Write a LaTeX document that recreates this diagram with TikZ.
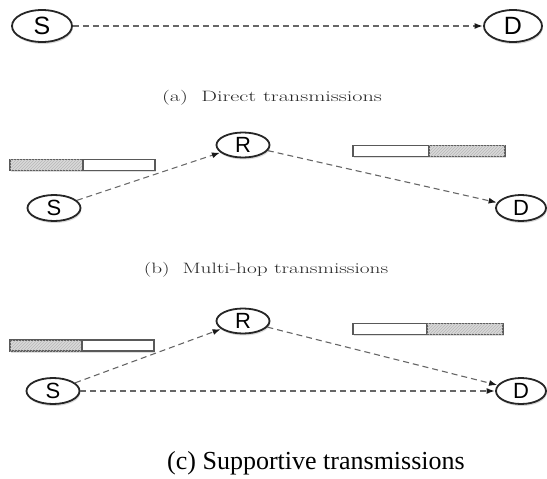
\documentclass[tikz,border=0pt]{standalone}
\usepackage{fontspec}
\newfontfamily\nodesans{Liberation Sans}
\newfontfamily\capserif{Liberation Serif}
\usetikzlibrary{shapes.geometric,arrows.meta,patterns,shadows}
\begin{document}
\begin{tikzpicture}[x=1pt,y=-1pt,
  tnode/.style={ellipse, draw=black!85, line width=1.8pt, fill=white, inner sep=0pt,
    drop shadow={opacity=0.3, shadow xshift=0.8pt, shadow yshift=-2pt},
    minimum width=53pt, minimum height=26pt,
    font=\nodesans\fontsize{22}{22}\selectfont},
  bignode/.style={tnode, minimum width=60pt, minimum height=32pt,
    font=\nodesans\fontsize{25}{25}\selectfont},
  link/.style={dash pattern=on 6pt off 4pt, line width=1.1pt, draw=black!60,
    -{Latex[length=8pt,width=6pt,color=black!90]}, shorten >=0.5pt},
  barwhite/.style={rectangle, draw=black!65, line width=1.4pt, fill=white,
    minimum height=11pt, inner sep=0pt, outer sep=0pt,
    drop shadow={opacity=0.25, shadow xshift=0.8pt, shadow yshift=-1.8pt}},
  barhatch/.style={barwhite, fill=black!15, postaction={pattern=north east lines, pattern color=black!28}},
  capcm/.style={text=black!85, font=\fontsize{15}{18}\selectfont\addfontfeature{FakeBold=1.2}, inner sep=0pt},
  capt/.style={text=black, font=\capserif\fontsize{26}{30}\selectfont, inner sep=0pt}
]
\useasboundingbox (0,0) rectangle (547,479);

% (a) direct
\node[bignode] (S1) at (42,26) {S};
\node[bignode, minimum width=58pt] (D1) at (513,26) {D};
\draw[link] (S1) -- (D1);
\node[capcm] (capA) at (272,98) {\scalebox{1.48}[1]{(a)\ \ Direct transmissions}};

% (b) multi-hop
\node[barhatch, minimum width=73pt] (bL2a) at (46.5,165) {};
\node[barwhite, minimum width=72pt] (bL2b) at (119,165) {};
\node[barwhite, minimum width=76pt] (bR2a) at (391,151) {};
\node[barhatch, minimum width=76pt] (bR2b) at (467,151) {};
\node[tnode] (S2) at (54,208) {S};
\node[tnode, minimum height=25pt] (R2) at (243,145) {R};
\node[tnode, minimum width=50pt] (D2) at (521,208) {D};
\draw[link] (S2) -- (R2);
\draw[link] (R2) -- (D2);
\node[capcm] (capB) at (266,270) {\scalebox{1.42}[1]{(b)\ \ Multi-hop transmissions}};

% (c) supportive
\node[barhatch, minimum width=72pt] (bL3a) at (46,345.5) {};
\node[barwhite, minimum width=72pt] (bL3b) at (118,345.5) {};
\node[barwhite, minimum width=74pt] (bR3a) at (390,329) {};
\node[barhatch, minimum width=76pt] (bR3b) at (465,329) {};
\node[tnode] (S3) at (53,391) {S};
\node[tnode, minimum height=25pt] (R3) at (243,321) {R};
\node[tnode, minimum width=50pt] (D3) at (521,391) {D};
\draw[link] (S3) -- (R3);
\draw[link] (R3) -- (D3);
\draw[link] (S3) -- (D3);
\node[capt] (capC) at (316,463) {(c) Supportive transmissions};
\end{tikzpicture}
\end{document}
